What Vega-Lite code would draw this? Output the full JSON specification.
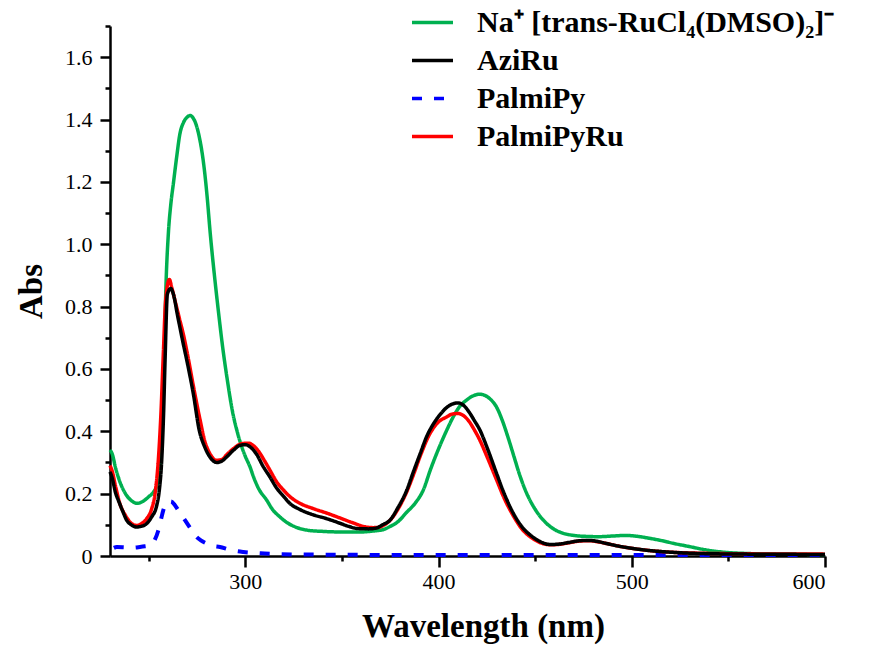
{
  "$schema": "https://vega.github.io/schema/vega-lite/v6.json",
  "autosize": {"type": "none"},
  "padding": {"left": 110, "top": 26, "right": 47, "bottom": 90},
  "width": 715,
  "height": 530,
  "background": "white",
  "config": {"view": {"stroke": null}, "font": "Liberation Serif"},
  "datasets": {
    "g": [{"x":230,"y":0.34},{"x":231,"y":0.33},{"x":233,"y":0.28},{"x":235,"y":0.24},{"x":238,"y":0.2},{"x":241,"y":0.178},{"x":244,"y":0.169},{"x":247,"y":0.175},{"x":250,"y":0.19},{"x":252.5,"y":0.205},{"x":254.5,"y":0.23},{"x":256.2,"y":0.307},{"x":257.2,"y":0.45},{"x":258,"y":0.63},{"x":259,"y":0.875},{"x":260.2,"y":1.034},{"x":261.5,"y":1.13},{"x":262.8,"y":1.195},{"x":264.5,"y":1.28},{"x":266.2,"y":1.355},{"x":268,"y":1.39},{"x":270,"y":1.408},{"x":271.4,"y":1.413},{"x":273,"y":1.405},{"x":274.5,"y":1.385},{"x":276,"y":1.35},{"x":277.5,"y":1.3},{"x":279,"y":1.23},{"x":280.3,"y":1.15},{"x":281.8,"y":1.04},{"x":284.3,"y":0.885},{"x":286,"y":0.79},{"x":288.3,"y":0.67},{"x":290.7,"y":0.565},{"x":293.5,"y":0.46},{"x":296,"y":0.395},{"x":298.2,"y":0.35},{"x":300,"y":0.32},{"x":302.5,"y":0.285},{"x":304.2,"y":0.255},{"x":307,"y":0.215},{"x":311,"y":0.18},{"x":314,"y":0.15},{"x":318,"y":0.125},{"x":321.4,"y":0.108},{"x":326,"y":0.093},{"x":333,"y":0.082},{"x":340,"y":0.079},{"x":350,"y":0.077},{"x":360,"y":0.077},{"x":366,"y":0.08},{"x":371,"y":0.084},{"x":375,"y":0.095},{"x":379,"y":0.11},{"x":383.5,"y":0.14},{"x":388,"y":0.17},{"x":392,"y":0.21},{"x":396,"y":0.28},{"x":399,"y":0.328},{"x":404,"y":0.4},{"x":407.6,"y":0.446},{"x":411,"y":0.48},{"x":414.5,"y":0.5},{"x":418,"y":0.514},{"x":421.5,"y":0.519},{"x":424,"y":0.515},{"x":427,"y":0.502},{"x":430,"y":0.478},{"x":433,"y":0.435},{"x":436,"y":0.38},{"x":439,"y":0.32},{"x":442,"y":0.26},{"x":445.7,"y":0.2},{"x":450,"y":0.15},{"x":456,"y":0.104},{"x":460,"y":0.085},{"x":465,"y":0.072},{"x":470,"y":0.066},{"x":476,"y":0.063},{"x":483,"y":0.062},{"x":490,"y":0.064},{"x":497,"y":0.066},{"x":503,"y":0.063},{"x":509,"y":0.057},{"x":515,"y":0.05},{"x":522,"y":0.04},{"x":530,"y":0.03},{"x":538,"y":0.02},{"x":548,"y":0.012},{"x":560,"y":0.008},{"x":575,"y":0.006},{"x":600,"y":0.005}],
    "a": [{"x":230,"y":0.27},{"x":231,"y":0.253},{"x":233,"y":0.2},{"x":234.3,"y":0.179},{"x":236.5,"y":0.145},{"x":238.6,"y":0.115},{"x":241,"y":0.1},{"x":243.8,"y":0.093},{"x":246,"y":0.095},{"x":249,"y":0.104},{"x":251.5,"y":0.125},{"x":254.1,"y":0.16},{"x":255.5,"y":0.21},{"x":256.7,"y":0.3},{"x":257.7,"y":0.45},{"x":258.5,"y":0.628},{"x":259.7,"y":0.84},{"x":261.4,"y":0.858},{"x":262.7,"y":0.842},{"x":265,"y":0.77},{"x":267.9,"y":0.681},{"x":270,"y":0.62},{"x":273.1,"y":0.521},{"x":276.2,"y":0.403},{"x":279,"y":0.35},{"x":282,"y":0.315},{"x":285.2,"y":0.3},{"x":288,"y":0.305},{"x":290.4,"y":0.318},{"x":294,"y":0.34},{"x":297.3,"y":0.355},{"x":300,"y":0.357},{"x":302.5,"y":0.35},{"x":306,"y":0.325},{"x":309,"y":0.29},{"x":312.8,"y":0.253},{"x":316,"y":0.22},{"x":320,"y":0.19},{"x":323.2,"y":0.168},{"x":328,"y":0.15},{"x":335.2,"y":0.132},{"x":342,"y":0.12},{"x":349,"y":0.105},{"x":354,"y":0.094},{"x":358,"y":0.088},{"x":364,"y":0.087},{"x":368,"y":0.09},{"x":371,"y":0.1},{"x":374.9,"y":0.115},{"x":379,"y":0.155},{"x":383.5,"y":0.21},{"x":387,"y":0.27},{"x":390.5,"y":0.328},{"x":394,"y":0.385},{"x":397.5,"y":0.425},{"x":401,"y":0.455},{"x":404,"y":0.475},{"x":407,"y":0.487},{"x":410.2,"y":0.491},{"x":413,"y":0.483},{"x":416,"y":0.46},{"x":418.5,"y":0.435},{"x":421.5,"y":0.403},{"x":425,"y":0.35},{"x":430.1,"y":0.264},{"x":434,"y":0.2},{"x":438.8,"y":0.136},{"x":443,"y":0.095},{"x":449,"y":0.06},{"x":453,"y":0.045},{"x":457.7,"y":0.037},{"x":462,"y":0.038},{"x":467,"y":0.043},{"x":473.2,"y":0.049},{"x":478,"y":0.05},{"x":482,"y":0.047},{"x":487,"y":0.04},{"x":493,"y":0.032},{"x":500.8,"y":0.024},{"x":510,"y":0.017},{"x":518,"y":0.013},{"x":535.3,"y":0.008},{"x":560,"y":0.006},{"x":600,"y":0.005}],
    "p": [{"x":232,"y":0.026},{"x":233.5,"y":0.029},{"x":238,"y":0.028},{"x":242,"y":0.027},{"x":245.5,"y":0.029},{"x":248,"y":0.031},{"x":250.7,"y":0.034},{"x":253,"y":0.05},{"x":255,"y":0.082},{"x":256.5,"y":0.12},{"x":257.6,"y":0.147},{"x":259,"y":0.168},{"x":260.2,"y":0.175},{"x":261.5,"y":0.175},{"x":263.6,"y":0.163},{"x":266,"y":0.14},{"x":268.8,"y":0.115},{"x":272,"y":0.085},{"x":274.8,"y":0.061},{"x":277,"y":0.05},{"x":280,"y":0.04},{"x":283,"y":0.033},{"x":286.9,"y":0.029},{"x":292,"y":0.02},{"x":299,"y":0.013},{"x":310,"y":0.008},{"x":324.9,"y":0.005},{"x":350,"y":0.004},{"x":400,"y":0.003},{"x":450,"y":0.003},{"x":500,"y":0.003},{"x":550,"y":0.003},{"x":600,"y":0.003}],
    "r": [{"x":230,"y":0.29},{"x":231,"y":0.275},{"x":233,"y":0.22},{"x":235,"y":0.17},{"x":238,"y":0.13},{"x":241,"y":0.105},{"x":243.8,"y":0.098},{"x":246,"y":0.103},{"x":249,"y":0.12},{"x":251.5,"y":0.15},{"x":253.3,"y":0.2},{"x":255,"y":0.307},{"x":256.3,"y":0.45},{"x":257.6,"y":0.65},{"x":258.8,"y":0.82},{"x":260.7,"y":0.887},{"x":262,"y":0.86},{"x":264,"y":0.81},{"x":266,"y":0.76},{"x":268,"y":0.71},{"x":270,"y":0.65},{"x":273,"y":0.55},{"x":276.5,"y":0.44},{"x":279,"y":0.37},{"x":282,"y":0.325},{"x":285,"y":0.307},{"x":288,"y":0.31},{"x":290.4,"y":0.325},{"x":294,"y":0.345},{"x":298,"y":0.36},{"x":301.6,"y":0.362},{"x":304,"y":0.355},{"x":307,"y":0.335},{"x":310,"y":0.305},{"x":312.8,"y":0.275},{"x":316,"y":0.24},{"x":320,"y":0.21},{"x":323.2,"y":0.19},{"x":328,"y":0.17},{"x":335.2,"y":0.152},{"x":342,"y":0.138},{"x":349,"y":0.122},{"x":355,"y":0.108},{"x":362.5,"y":0.093},{"x":366,"y":0.091},{"x":369,"y":0.092},{"x":372,"y":0.1},{"x":375,"y":0.115},{"x":379,"y":0.15},{"x":383.5,"y":0.205},{"x":387,"y":0.26},{"x":390.5,"y":0.32},{"x":395.6,"y":0.393},{"x":400,"y":0.43},{"x":404.2,"y":0.446},{"x":407,"y":0.455},{"x":410.2,"y":0.457},{"x":413,"y":0.45},{"x":416,"y":0.43},{"x":418.5,"y":0.405},{"x":421.5,"y":0.37},{"x":425,"y":0.32},{"x":430,"y":0.245},{"x":434,"y":0.185},{"x":438.8,"y":0.128},{"x":443,"y":0.088},{"x":449,"y":0.055},{"x":453,"y":0.042},{"x":457.7,"y":0.036},{"x":462,"y":0.037},{"x":467,"y":0.042},{"x":473.2,"y":0.048},{"x":478,"y":0.049},{"x":482,"y":0.046},{"x":487,"y":0.04},{"x":493,"y":0.032},{"x":500.8,"y":0.024},{"x":510,"y":0.017},{"x":518,"y":0.013},{"x":535,"y":0.009},{"x":560,"y":0.007},{"x":600,"y":0.006}]
  },
  "encoding": {
    "x": {
      "field": "x", "type": "quantitative",
      "scale": {"domain": [230, 600], "nice": false, "zero": false},
      "axis": {
        "title": "Wavelength (nm)",
        "titleX": 373,
        "values": [250, 300, 350, 400, 450, 500, 550, 600],
        "labelExpr": "datum.value % 100 == 0 ? datum.label : ''",
        "tickSize": {"condition": {"test": "datum.value % 100 == 0", "value": 11}, "value": 5},
        "grid": false,
        "domainColor": "black", "domainWidth": 2.5,
        "tickColor": "black", "tickWidth": 2.5,
        "labelFont": "Liberation Serif", "labelFontSize": 22, "labelColor": "black", "labelPadding": 4,
        "titleFont": "Liberation Serif", "titleFontSize": 33, "titleFontWeight": "bold", "titleColor": "black", "titlePadding": 18
      }
    },
    "y": {
      "field": "y", "type": "quantitative",
      "scale": {"domain": [0, 1.7], "nice": false},
      "axis": {
        "title": "Abs",
        "values": [0, 0.1, 0.2, 0.3, 0.4, 0.5, 0.6, 0.7, 0.8, 0.9, 1.0, 1.1, 1.2, 1.3, 1.4, 1.5, 1.6, 1.7],
        "labelExpr": "round(datum.value * 10) % 2 == 0 ? (datum.value == 0 ? '0' : format(datum.value, '.1f')) : ''",
        "tickSize": {"condition": {"test": "round(datum.value * 10) % 2 == 0", "value": 10}, "value": 5},
        "grid": false,
        "domainColor": "black", "domainWidth": 2.5,
        "tickColor": "black", "tickWidth": 2.5,
        "labelFont": "Liberation Serif", "labelFontSize": 22, "labelColor": "black", "labelPadding": 8,
        "titleFont": "Liberation Serif", "titleFontSize": 33, "titleFontWeight": "bold", "titleColor": "black", "titlePadding": 16
      }
    },
    "color": {
      "type": "nominal",
      "scale": {
        "domain": ["Na⁺ [trans-RuCl₄(DMSO)₂]⁻", "AziRu", "PalmiPy", "PalmiPyRu"],
        "range": ["#00b050", "#000000", "#0000ff", "#ff0000"]
      },
      "legend": {
        "title": null, "orient": "none", "legendX": 300, "legendY": -26,
        "symbolType": "stroke", "symbolSize": 1681, "symbolStrokeWidth": 3.5,
        "labelFont": "Liberation Serif", "labelFontSize": 30, "labelFontWeight": "bold", "labelColor": "black",
        "labelOffset": 22, "rowPadding": -1, "labelLimit": 500, "padding": 0
      }
    },
    "strokeDash": {
      "type": "nominal",
      "scale": {
        "domain": ["Na⁺ [trans-RuCl₄(DMSO)₂]⁻", "AziRu", "PalmiPy", "PalmiPyRu"],
        "range": [[1, 0], [1, 0], [10, 12], [1, 0]]
      },
      "legend": {
        "title": null, "orient": "none", "legendX": 300, "legendY": -26,
        "symbolType": "stroke", "symbolSize": 1681, "symbolStrokeWidth": 3.5,
        "labelFont": "Liberation Serif", "labelFontSize": 30, "labelFontWeight": "bold", "labelColor": "black",
        "labelOffset": 22, "rowPadding": -1, "labelLimit": 500, "padding": 0
      }
    }
  },
  "layer": [
    {
      "data": {"name": "g"},
      "mark": {"type": "line", "strokeWidth": 3.5, "interpolate": "monotone"},
      "encoding": {"color": {"datum": "Na⁺ [trans-RuCl₄(DMSO)₂]⁻"}, "strokeDash": {"datum": "Na⁺ [trans-RuCl₄(DMSO)₂]⁻"}}
    },
    {
      "data": {"name": "p"},
      "mark": {"type": "line", "strokeWidth": 4, "interpolate": "monotone"},
      "encoding": {"color": {"datum": "PalmiPy"}, "strokeDash": {"datum": "PalmiPy"}}
    },
    {
      "data": {"name": "r"},
      "mark": {"type": "line", "strokeWidth": 3.5, "interpolate": "monotone"},
      "encoding": {"color": {"datum": "PalmiPyRu"}, "strokeDash": {"datum": "PalmiPyRu"}}
    },
    {
      "data": {"name": "a"},
      "mark": {"type": "line", "strokeWidth": 3.5, "interpolate": "monotone"},
      "encoding": {"color": {"datum": "AziRu"}, "strokeDash": {"datum": "AziRu"}}
    }
  ]
}
